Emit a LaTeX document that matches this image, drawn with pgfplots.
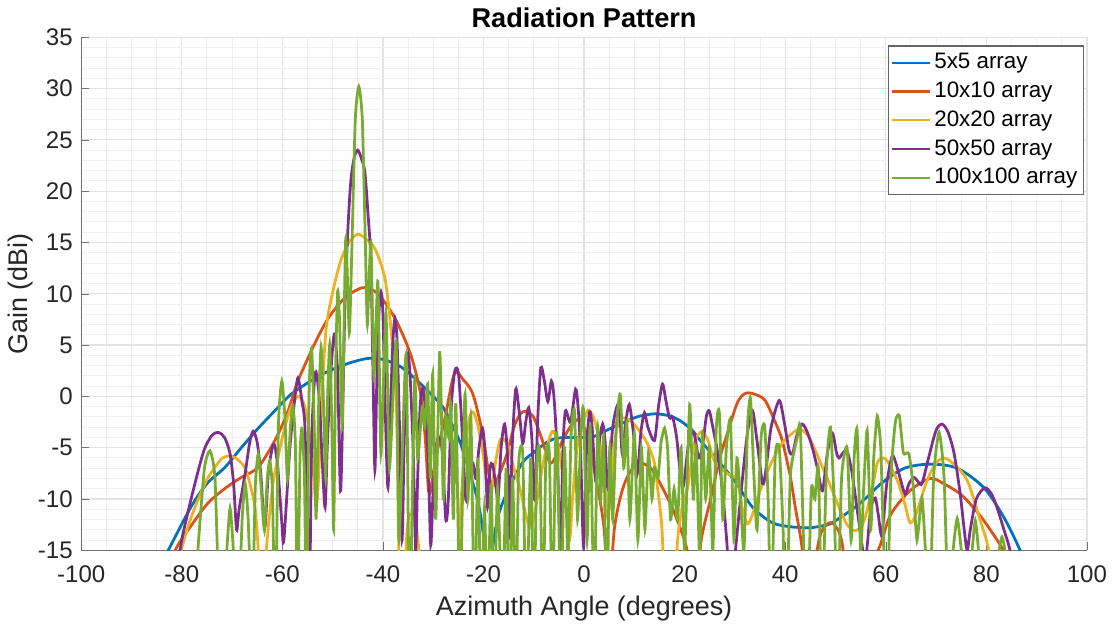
\documentclass[border=0pt]{standalone}
\usepackage{pgfplots}
\pgfplotsset{compat=1.18}
\usepackage{fontspec}
\setmainfont{Liberation Sans}

\definecolor{mblue}{rgb}{0,0.447,0.741}
\definecolor{morange}{rgb}{0.85,0.325,0.098}
\definecolor{myellow}{rgb}{0.929,0.694,0.125}
\definecolor{mpurple}{rgb}{0.494,0.184,0.556}
\definecolor{mgreen}{rgb}{0.466,0.674,0.188}

\begin{document}
\begin{tikzpicture}
\begin{axis}[
    scale only axis,
    width=14.7cm, height=7.5cm,
    xmin=-100, xmax=100, ymin=-15, ymax=35,
    xtick={-100,-80,...,100}, ytick={-15,-10,...,35},
    minor xtick={-95,-90,-85,-75,-70,-65,-55,-50,-45,-35,-30,-25,-15,-10,-5,
        5,10,15,25,30,35,45,50,55,65,70,75,85,90,95},
    minor ytick={-14,-13,-12,-11,-9,-8,-7,-6,-4,-3,-2,-1,1,2,3,4,6,7,8,9,
        11,12,13,14,16,17,18,19,21,22,23,24,26,27,28,29,31,32,33,34},
    grid=both,
    major grid style={draw=black!11, line width=0.5pt},
    minor grid style={draw=black!6, line width=0.4pt},
    axis lines*=left,
    axis line style={draw=black!55, line width=0.6pt},
    major tick style={draw=black!55},
    minor tick length=0pt,
    major tick length=0.12cm,
    tick align=inside,
    /pgf/number format/assume math mode=true,
    ticklabel style={font=\fontsize{10}{12}\selectfont, text=black!85},
    xticklabel style={yshift=-0.1cm},
    label style={font=\fontsize{11.2}{13}\selectfont, text=black!85},
    xlabel={Azimuth Angle (degrees)},
    xlabel style={yshift=0.05cm},
    ylabel={Gain (dBi)},
    ylabel style={yshift=-0.17cm},
    title={\bfseries Radiation Pattern},
    title style={font=\fontsize{11.3}{13}\selectfont, yshift=-0.2cm},
    legend style={at={(rel axis cs:0.997,0.984)}, anchor=north east,
        font=\fontsize{9.3}{11}\selectfont, draw=black!60, line width=0.5pt,
        inner sep=1pt, row sep=0pt, nodes={inner xsep=1.5pt}},
    legend cell align=left,
    legend image code/.code={\draw[#1, line width=0.9pt] (0cm,0cm) -- (0.55cm,0cm);},
    every axis plot/.append style={line width=1.15pt},
]
% 5x5 array
\addplot[mblue, smooth, tension=0.5] coordinates {
(-88,-20) (-82.7,-15) (-78.2,-10.8) (-75,-8.5) (-71.4,-6.9) (-68,-4.9)
(-64.8,-3.1) (-61.5,-1.4) (-58.3,0.2) (-55,1.3) (-51.5,2.3) (-47,3.2)
(-43,3.7) (-40,3.6) (-36.5,2.9) (-33.1,1.5) (-30,0) (-28,-1.1)
(-26.1,-2.9) (-24.4,-4.8) (-22.7,-7.5) (-21,-10.5) (-19.8,-14.5) (-19.2,-20)
(-18.5,-16) (-17,-11.5) (-14.2,-8.2) (-12,-6.3) (-9.6,-5.3) (-7.5,-4.5)
(-5.7,-4.1) (-3,-4.0) (0,-4.0) (2,-3.9) (4.5,-3.3) (7.2,-2.7)
(10.5,-2.0) (14,-1.7) (17,-1.9) (19.2,-2.4) (21.5,-3.3) (23.1,-4.3)
(26.5,-6.2) (29.9,-8.2) (33.5,-10.8) (37.4,-12.3) (41,-12.7) (44.8,-12.8)
(47.5,-12.6) (49.4,-12.3) (53.9,-10.8) (56.5,-9.7) (59.3,-8.4) (63.7,-7.0)
(68.8,-6.6) (74.2,-7.0) (79.5,-8.9) (83.5,-11.8) (86.7,-15) (88,-17)
};
\addlegendentry{5x5 array}
% 10x10 array
\addplot[morange, smooth, tension=0.5] coordinates {
(-84,-19) (-81.3,-15) (-78,-12.5) (-74.8,-10.4) (-71.5,-9) (-68.2,-7.9)
(-64.8,-6.9) (-61.5,-4.3) (-59,-1.6) (-56.9,1.5) (-53.5,5.2) (-50.9,7.6)
(-48,9.4) (-45.5,10.3) (-43.6,10.6) (-41,10) (-37.6,7.6) (-34.5,4.1)
(-32.5,0.2) (-31.6,-4) (-30.8,-9.5) (-29.5,-6) (-27.7,-2.2) (-25.8,2.2)
(-24,1.6) (-22.1,0.2) (-20.2,-3.6) (-18.9,-7.6) (-18,-8.7) (-15.6,-6)
(-13.8,-2.8) (-12.2,-1.5) (-10.2,-1.9) (-8.5,-4) (-6.6,-6.5) (-4.3,-4.3)
(-2.5,-2.8) (-1,-2.3) (0.7,-4.0) (2.7,-8.9) (4,-13) (4.9,-20)
(6,-13) (7.5,-9.3) (9.2,-7.3) (11.2,-6.5) (13,-6.9) (14,-7.5)
(16,-9.3) (18,-11.4) (20.5,-15) (21.9,-20) (23.3,-14) (25.1,-10.1)
(27,-6) (28.5,-3.6) (30.5,-0.6) (32.1,0.3) (34,0.2) (36,-0.4)
(38,-2.5) (39.4,-4.3) (41,-7.8) (42,-10.8) (43.4,-15) (44.5,-22)
(46,-16) (47.2,-13.2) (49.2,-12.3) (51.2,-14) (52.7,-20) (54,-22)
(55.9,-18) (57.5,-16) (58.9,-14.5) (61,-11.5) (64.8,-9.2) (68.8,-8)
(71.5,-8.5) (74.8,-9.5) (77,-10.6) (79.5,-12.1) (83.4,-15) (85,-17)
};
\addlegendentry{10x10 array}
% 20x20 array
\addplot[myellow, smooth, tension=0.5] coordinates {
(-82,-19) (-80.1,-15) (-78.5,-12.3) (-76.8,-10.1) (-75,-8.1) (-73.4,-6.9)
(-71.9,-6) (-70.4,-5.8) (-69,-6.1) (-67.4,-7) (-66.2,-9) (-65.4,-11)
(-64.8,-15) (-64.1,-22) (-63.2,-15) (-62,-9) (-60.9,-6) (-59.5,-3)
(-58.3,-1.1) (-56.9,0.0) (-55.8,-0.6) (-54.9,-2.5) (-54,-6) (-53.3,-10.8)
(-52.8,-8) (-52.2,-1) (-51.5,5.4) (-50.9,8) (-49.5,11.2) (-48.4,13.2)
(-46.8,15) (-45,15.8) (-43.3,15.3) (-41.6,14.4) (-39.6,11.5) (-38.4,6.6)
(-37.8,3) (-37.4,0.2) (-37.1,-6) (-36.8,-16) (-36.3,-24)
(-35.2,-13) (-34.3,-11.5) (-33.3,-13) (-32.3,-18) (-31.5,-25)
(-28,-26) (-25.8,-25) (-25,-15) (-24.3,-9) (-23.3,-3.5) (-22.3,-1.5)
(-21.3,-2.5) (-20.2,-5.3) (-19.2,-9) (-18.6,-10.1) (-17.8,-7) (-16.8,-4.4)
(-16,-4.2) (-15,-5) (-13.8,-7.3) (-12.8,-8.9) (-10.8,-12.8) (-9.5,-10.5)
(-8.5,-7.5) (-7.6,-5.3) (-6.3,-3.4) (-5.3,-4.5) (-4.3,-7.5) (-3.7,-10.1)
(-2.9,-14) (-2.3,-10) (-1.5,-5.5) (-0.9,-3.6) (0.5,-1.6) (1.1,-1.4)
(2.2,-2.5) (3.3,-5.3) (4.2,-9) (4.7,-11.8) (5.3,-9) (6.2,-4)
(7.2,-2.2) (9,-2.3) (10.6,-3.1) (12.6,-4.6) (14,-6.5) (14.6,-8.9)
(15.5,-13) (16.2,-22) (17.5,-22) (18.6,-14) (19.6,-10.5) (20.6,-8.9)
(21.9,-4.6) (23.5,-3.4) (24.8,-4.5) (25.9,-6.3) (28.5,-7.5) (30.5,-8.2)
(31.5,-11) (32.5,-12.4) (33.5,-11.5) (35.5,-8.5) (37.4,-6.3) (39.5,-4.5)
(41.4,-3.6) (42.8,-3.2) (44.5,-3.8) (46,-5.3) (48.8,-8.5) (50.7,-10.8)
(52.3,-12.5) (53.9,-13.1) (55,-12.7) (55.9,-11.8) (57.5,-8.5) (58.3,-6.5)
(59.3,-6) (60.3,-6.3) (62.3,-8.2) (63.8,-10.5) (64.8,-12.3) (66,-11.5)
(68.2,-8.2) (70,-6.5) (71.6,-6) (73.5,-6.6) (76.2,-8.2) (78.8,-12.1)
(80.5,-15) (81.5,-19)
};
\addlegendentry{20x20 array}
% 50x50 array
\addplot[mpurple, smooth, tension=0.45] coordinates {
(-82,-20) (-80,-14) (-78.2,-10.1) (-76.5,-6.8) (-75.4,-5) (-74,-3.8)
(-72.8,-3.5) (-71.5,-4) (-70.4,-5.6) (-69.7,-8.5) (-69.1,-13) (-68.6,-11)
(-67.4,-7.5) (-66.5,-4.5) (-65.8,-3.4) (-65,-4.5) (-64.3,-7.5) (-63.5,-12.8)
(-62.8,-7.5) (-62,-5) (-61.5,-4.8) (-60.9,-7) (-60.1,-12.4) (-59.7,-14)
(-58.5,-5) (-57.6,-0.5) (-56.9,1.8) (-56.1,-0.5) (-55.5,-3.1) (-55,-14.7)
(-54.6,-20) (-54.2,-5) (-53.7,1) (-53.3,2.4) (-52.7,0) (-52.1,-6)
(-51.5,-10.8) (-51,-4) (-50.2,3.5) (-49.6,6.1) (-49,2) (-48.4,-9.2)
(-47.6,8) (-47,16) (-46.4,20.9) (-45.7,23.3) (-45,24) (-44.3,23.2)
(-43.6,21.9) (-43,18) (-42.4,13.2) (-42,3) (-41.6,-7.2) (-41.2,2)
(-40.8,8) (-40.4,10.2) (-40,8) (-39.5,-2) (-39,-8.9) (-38.5,-1)
(-38,5.5) (-37.6,7.6) (-37.2,5.5) (-36.7,-3) (-36.2,-14) (-35.8,-5)
(-35.4,2) (-35,4.1) (-34.6,2) (-34,-5) (-33.5,-15) (-33.1,-8)
(-32.6,-1) (-32.1,0.8) (-31.6,-1) (-31,-6) (-30.5,-14.5) (-30,-9)
(-29.3,-4.5) (-28.7,-4) (-28.2,-5.5) (-27.5,-12) (-27,-10) (-26.4,-1)
(-25.7,2.5) (-25,2.3) (-24.4,-2) (-23.5,-10.1) (-22.7,-7) (-22.1,-6.5)
(-21.5,-8) (-20.9,-5) (-20.2,-3.1) (-19.7,-5.5) (-19.2,-10.8) (-18.7,-7)
(-18.2,-6.6) (-17.6,-8.5) (-17.1,-10) (-16.5,-5) (-15.8,-2.7) (-15.2,-6)
(-14.8,-13.4) (-14.3,-5) (-13.6,0.7) (-12.9,-1.5) (-12.2,-4.6) (-11.6,-2.5)
(-11,-1.1) (-10.4,-4) (-9.8,-10.1) (-9.2,-2) (-8.6,2.8) (-7.9,1.5)
(-7.2,-0.5) (-6.5,1.5) (-6,0) (-5.4,-5) (-4.7,-14.7) (-4.2,-5)
(-3.7,-1.4) (-2.7,-2.5) (-1.7,0.7) (-1.2,-1) (-0.7,-5.3) (-0.1,-14.7)
(0.5,-5) (1.1,-1.5) (1.6,-3) (2.3,-8.2) (3,-4.5) (3.7,-2.7)
(4.2,-4.5) (4.7,-8.9) (5.7,-3) (6.7,-0.8) (7.2,-2.5) (7.6,-5.6)
(8.3,-2.5) (9,-0.8) (9.8,-3.5) (10.6,-7.5) (11.3,-3.5) (12,-1.6)
(12.7,-3) (14,-4.3) (14.8,-1) (15.6,1.2) (16.3,-0.5) (17,-2.1)
(17.6,-2) (18.4,-4) (19.6,-8.9) (20.8,-4.5) (21.8,-3.5) (22.8,-6)
(23.5,-5) (24.3,-2) (24.9,-1.4) (25.6,-3) (26.5,-5.3) (27.5,-9)
(28.5,-15) (29,-20) (30.3,-14) (31.5,-8) (32.5,-3.5) (33.5,-1.4)
(34.3,-4) (35.5,-8.5) (36.2,-7) (37.2,-3) (38.8,-0.4) (39.8,-2.5)
(40.8,-5.3) (41.5,-5.5) (42.3,-3.8) (43.4,-2.7) (44.4,-3.5) (45.4,-5)
(46.4,-7) (47.4,-9.2) (48.4,-5.5) (49.4,-3.6) (50.2,-5.5) (50.7,-6)
(51.5,-5.5) (52.3,-5.3) (53.3,-7.5) (54.7,-12.4) (55.9,-16) (57,-11)
(57.9,-9.9) (58.5,-11.5) (59.2,-13.5) (60.2,-8.5) (61.3,-5.8) (62.3,-7)
(63.8,-9.5) (64.6,-8.5) (65.6,-7.9) (66.4,-8.3) (67.2,-8.5) (68.5,-6)
(70,-3.3) (71.2,-2.7) (72.4,-3.5) (73.6,-5.6) (74.8,-9.5) (75.6,-13)
(76.2,-15) (76.8,-13) (78,-10) (79.7,-8.9) (81,-9.5) (82.1,-10.8)
(83.5,-13) (84.7,-15) (85.5,-18)
};
\addlegendentry{50x50 array}
% 100x100 array
\addplot[mgreen, smooth, tension=0.35] coordinates {
(-77.5,-22) (-76.8,-15) (-75.5,-7) (-74.4,-5.3) (-73.4,-8) (-72.4,-22)
(-71.2,-16) (-70.4,-10.9) (-69.6,-16) (-68.8,-22) (-68,-12) (-67.4,-8.5)
(-66.8,-12) (-66,-22) (-65.4,-9) (-64.8,-5.6) (-64.2,-9) (-63.6,-13)
(-63,-8) (-62.5,-6.3) (-62,-9) (-61.4,-22) (-60.8,-3) (-60.1,1.5)
(-59.5,-2) (-59,-8) (-58.4,-3) (-57.9,-0.9) (-57.4,-5) (-57,-22)
(-56.5,-6) (-56.1,-3.1) (-55.6,-8) (-55.2,-22) (-54.7,0) (-54.2,4.7)
(-53.7,-2) (-53.3,-12) (-52.8,-1) (-52.3,4.8) (-51.8,-1) (-51.4,-8)
(-51,0) (-50.6,5) (-50.2,-2) (-49.8,-13) (-49.4,3) (-49,10.3)
(-48.6,7) (-48.1,-3) (-47.4,15.4) (-46.7,6.2) (-46.2,14) (-45.5,27)
(-44.8,30.2) (-44.1,27) (-43.5,15) (-43.1,7) (-42.4,15.1) (-41.8,2)
(-41,11.2) (-40.4,-5.6) (-39.4,8.1) (-38.7,-7) (-37.4,5.4) (-36.8,-14)
(-35.4,4.1) (-34.7,-22) (-33.7,1.5) (-33.1,-6) (-32.2,-1) (-31.7,-3)
(-31.1,1.2) (-30.6,-8) (-30.1,2.2) (-29.5,-12) (-28.7,4.4) (-28,-10)
(-27.5,-2) (-26.9,-4) (-26.5,-0.7) (-26,-12) (-25.5,-0.8) (-24.7,-20)
(-23.7,0.2) (-23.1,-10) (-22.5,-2.1) (-21.8,-22) (-21.1,-6) (-20.5,-22)
(-19.8,-10.8) (-19.2,-22) (-18.5,-8.5) (-17.9,-22) (-17.2,-8.9) (-16.2,-22)
(-15.5,-7) (-14.9,-22) (-14.2,-7.9) (-13.6,-22) (-13,-6.5) (-12.2,-5.6)
(-11.5,-22) (-10.6,-6) (-10,-22) (-9.4,-6.5) (-8.8,-5.6) (-8.2,-22)
(-7.6,-6) (-6.9,-5.6) (-6.3,-22) (-5.7,-5) (-5.3,-4.6) (-4.6,-22)
(-3.9,-5) (-3.2,-16) (-2.6,-4) (-1.9,-1.4) (-1.3,-12) (-0.6,-3)
(-0.1,-1.4) (0.6,-14) (1.2,-3) (2,-20) (2.7,-3.1) (3.3,-10)
(3.9,-4) (4.5,-22) (5.1,-5) (5.7,-12) (6.4,-3) (7.2,0.2)
(7.9,-7) (8.5,-2.5) (9.1,-12) (10,-3.6) (10.7,-14) (11.4,-5)
(12.1,-13) (12.8,-5.5) (13.5,-10) (14,-6.9) (14.7,-8) (15.3,-4.5)
(16,-3.1) (16.6,-5) (17.2,-12) (17.9,-9) (18.6,-12) (19.3,-5)
(20,-15) (21,-0.8) (21.7,-10) (22.3,-5) (23,-16) (23.5,-3.6)
(24.2,-10) (24.9,-5) (25.6,-15) (26.3,-3) (26.9,-1.6) (27.6,-12)
(28.3,-5) (29.1,-2.4) (29.8,-14) (30.4,-6) (31.1,-10) (31.8,-15)
(32.5,-3) (33.1,-0.2) (33.8,-8) (34.4,-13) (35.2,-4) (35.9,-2.9)
(36.6,-10) (37.2,-22) (38,-6) (38.8,-5) (39.5,-12) (40.2,-22)
(41,-8) (41.8,-5.3) (42.4,-4) (43,-3) (43.7,-15) (44.4,-22)
(45.2,-9) (45.9,-10) (46.6,-7) (47.3,-22) (48.2,-7) (49,-3)
(49.7,-10) (50.4,-22) (51.2,-8) (52.3,-5) (53.1,-14) (53.7,-6)
(54.3,-3.3) (55,-15) (55.6,-9) (56.3,-3.3) (57,-13) (57.6,-6)
(58.3,-1.9) (59,-5) (59.6,-15) (60.2,-22) (61,-8) (61.9,-2.5)
(62.7,-1.9) (63.5,-5.5) (64.6,-5.6) (65.5,-9) (66.2,-14) (67.2,-9.9)
(68,-16) (68.7,-22) (69.5,-8) (70.6,-3.5) (71.6,-8) (72.5,-22)
(73.2,-16) (74.2,-11.9) (75.2,-16) (76,-22) (77,-16) (77.8,-12.1)
(78.6,-16) (79.5,-22) (81.5,-22) (82.3,-16) (83.1,-13.7) (84,-16)
(84.8,-22)
};
\addlegendentry{100x100 array}
\end{axis}
\end{tikzpicture}
\end{document}
